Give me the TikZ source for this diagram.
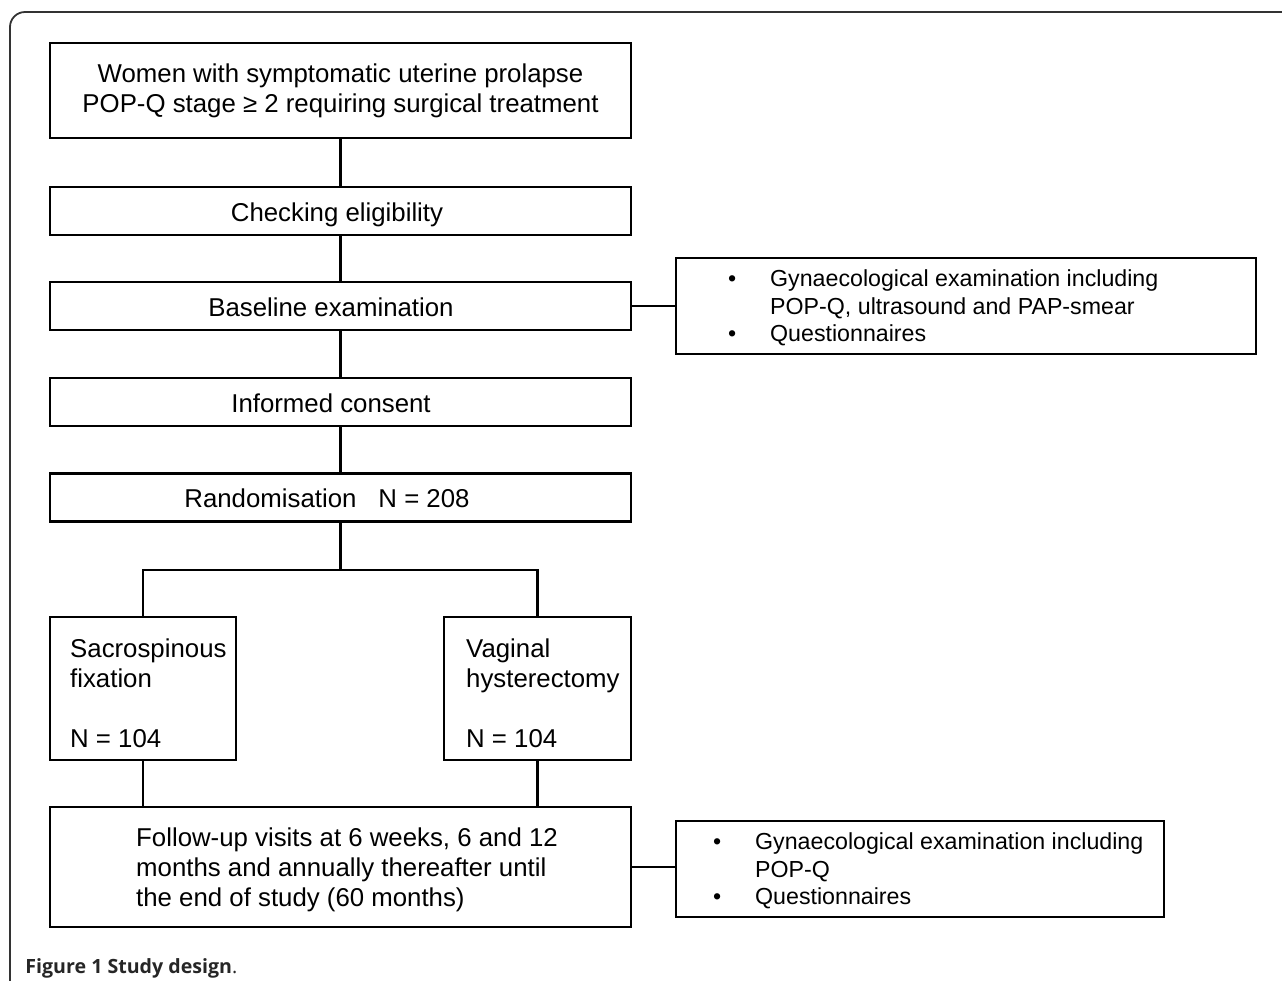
\documentclass[tikz,border=0pt]{standalone}
\usepackage{fontspec}
\setmainfont{Liberation Sans}
\newfontfamily\capfont{Open Sans}
\usetikzlibrary{positioning}
\newcommand{\boxfont}{\fontsize{12.9}{15}\selectfont}
\newcommand{\listfont}{\fontsize{11.6}{13.75}\selectfont}
\newcommand{\bitem}{\makebox[21pt][l]{\textbullet}}
\tikzset{
  stage/.style={draw, line width=1.2pt, minimum width=290.5pt, minimum height=24pt, inner sep=0pt, font=\boxfont, align=center},
  arm/.style={draw, line width=1.2pt, minimum width=93pt, minimum height=71.5pt, inner sep=0pt},
  notes/.style={draw, line width=1.2pt, minimum height=48pt, inner sep=0pt},
  boxtext/.style={inner sep=0pt, align=left, font=\boxfont, anchor=west},
  listtext/.style={inner sep=0pt, align=left, font=\listfont, anchor=west},
  link/.style={line width=1.1pt}
}

\begin{document}
\begin{tikzpicture}[x=1pt,y=-1pt]
    \useasboundingbox (0,0) rectangle (641,490.5);
    \draw[line width=0.9pt, black!80, rounded corners=7.5pt] (5,490.5) -- (5,6) -- (641,6);

    \node[stage, minimum height=47.5pt] (women) at (170.25,45.25) {Women with symptomatic uterine prolapse\\POP-Q stage ≥ 2 requiring surgical treatment};
    \foreach \name/\y/\dx/\txt in {check/105.5/-3.5pt/Checking eligibility, base/153/-9.5pt/Baseline examination, consent/201/-9.5pt/Informed consent, random/248.75/-13.5pt/Randomisation\hspace{11pt}N = 208} {
        \node[stage, text height=10pt, text depth=0pt] (\name) at (170.25,\y) {\hspace*{\dx}\txt};
    }
    \node[arm] (sacro) at (71.5,344.25) {};
    \node[arm, minimum width=93.5pt] (hyst) at (268.75,344.25) {};
    \node[stage, minimum height=60pt] (follow) at (170.25,433.5) {};
    \node[notes, minimum width=290pt] (basenotes) at (483,153) {};
    \node[notes, minimum width=244pt] (follownotes) at (460,434.5) {};

    \node[boxtext] (sacrotext) at ([xshift=10.5pt,yshift=-2.5pt]sacro.west) {Sacrospinous\\fixation\\[15pt]N = 104};
    \node[boxtext] (hysttext) at ([xshift=11.5pt,yshift=-2.5pt]hyst.west) {Vaginal\\hysterectomy\\[15pt]N = 104};
    \node[boxtext] (followtext) at ([xshift=43.5pt,yshift=-1.5pt]follow.west) {Follow-up visits at 6 weeks, 6 and 12\\months and annually thereafter until\\the end of study (60 months)};
    \node[listtext] (basetext) at ([xshift=26.5pt,yshift=-1pt]basenotes.west) {\bitem Gynaecological examination including\\\hspace*{21pt}POP-Q, ultrasound and PAP-smear\\\bitem Questionnaires};
    \node[listtext] (followlist) at ([xshift=19pt,yshift=-1pt]follownotes.west) {\bitem Gynaecological examination including\\\hspace*{21pt}POP-Q\\\bitem Questionnaires};

    \foreach \a/\b in {women/check, check/base, base/consent, consent/random}
        \draw[link] (\a) -- (\b);
    \coordinate (split) at (170.25,285);
    \draw[link] (random) -- (split);
    \draw[link] (sacro.north) |- (split) -| (hyst.north);
    \draw[link] (sacro.south) -- (sacro.south |- follow.north);
    \draw[link] (hyst.south) -- (hyst.south |- follow.north);
    \draw[link] (base) -- (basenotes);
    \draw[link] (follow.east) -- (follow.east -| follownotes.west);
    % caption below the frame
    \node[anchor=base west, inner sep=0pt, font=\capfont\fontsize{9.8}{12}\selectfont, text=black!85] (caption) at (12.5,486.5) {\textbf{Figure 1 Study design}.};
\end{tikzpicture}
\end{document}
